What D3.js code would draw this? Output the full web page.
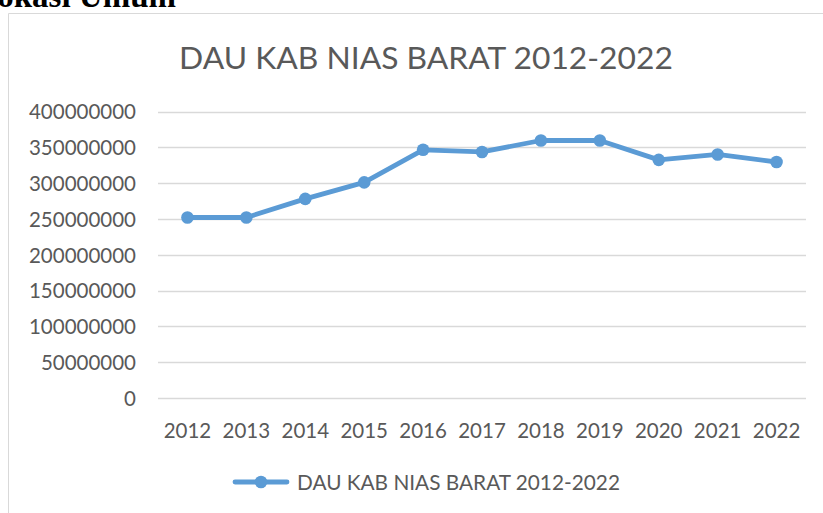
<!DOCTYPE html>
<html><head><meta charset="utf-8">
<script src="https://cdn.jsdelivr.net/npm/d3@7"></script>
<style>html,body{margin:0;padding:0;background:#fff;overflow:hidden}</style>
</head><body>
<svg id="c" width="823" height="513"></svg>
<script>
const categories = ["2012","2013","2014","2015","2016","2017","2018","2019","2020","2021","2022"];
const values = [252000000,252000000,278000000,301000000,346500000,343500000,359500000,359500000,332500000,340000000,329500000];
const yTicks = [0,50000000,100000000,150000000,200000000,250000000,300000000,350000000,400000000];
const seriesName = "DAU KAB NIAS BARAT 2012-2022";
const chartTitle = "DAU KAB NIAS BARAT 2012-2022";
const headingText = "Alokasi Umum";

(function(){
const svg = d3.select("#c");
const font = "Lato, 'Open Sans', sans-serif";
const grey = "#595959";
const blue = "#5b9bd5";

// heading (clipped at top)
svg.append("text").attr("x",176).attr("y",6.5).attr("text-anchor","end")
  .attr("font-family","'Liberation Serif', serif").attr("font-weight","bold")
  .attr("font-size",33).attr("fill","#000").text(headingText);

// chart frame
svg.append("path").attr("d","M8.5,530 V13.5 H840").attr("fill","none")
  .attr("stroke","#d9d9d9").attr("stroke-width",1);

const pL=158, pR=806, pT=111.5, pB=398;
const x = d3.scaleBand().domain(categories).range([pL,pR]);
const y = d3.scaleLinear().domain([0,400000000]).range([pB,pT]);

// gridlines
svg.append("g").selectAll("line").data(yTicks).join("line")
  .attr("x1",pL).attr("x2",pR)
  .attr("y1",d=>Math.round(y(d))+0.5).attr("y2",d=>Math.round(y(d))+0.5)
  .attr("stroke","#d9d9d9").attr("stroke-width",1.3);

// y axis labels
const ya = svg.append("g").attr("transform",`translate(${pL-22},0)`)
  .call(d3.axisLeft(y).tickValues(yTicks).tickSize(0).tickPadding(0).tickFormat(d3.format("d")));
ya.select(".domain").remove();
ya.selectAll("text").attr("font-family",font).attr("font-size",20.5).attr("fill",grey).attr("dy","0.36em");

// x axis labels
const xa = svg.append("g").attr("transform","translate(0,0)")
  .call(d3.axisBottom(x).tickSize(0));
xa.select(".domain").remove();
xa.selectAll("text").attr("font-family",font).attr("font-size",20.5).attr("fill",grey)
  .attr("y",438).attr("dy",0);

// title
svg.append("text").attr("x",426).attr("y",69).attr("text-anchor","middle")
  .attr("font-family",font).attr("font-size",31.8).attr("fill",grey).text(chartTitle);

// line
const line = d3.line().x(d=>x(d.c)+x.bandwidth()/2).y(d=>y(d.v));
const data = categories.map((c,i)=>({c,v:values[i]}));
svg.append("path").datum(data).attr("d",line).attr("fill","none")
  .attr("stroke",blue).attr("stroke-width",4.8).attr("stroke-linejoin","round");
svg.append("g").selectAll("circle").data(data).join("circle")
  .attr("cx",d=>x(d.c)+x.bandwidth()/2).attr("cy",d=>y(d.v)).attr("r",6.3).attr("fill",blue);

// legend
svg.append("line").attr("x1",235).attr("x2",287).attr("y1",482).attr("y2",482)
  .attr("stroke",blue).attr("stroke-width",4.8).attr("stroke-linecap","round");
svg.append("circle").attr("cx",261).attr("cy",482).attr("r",6.3).attr("fill",blue);
svg.append("text").attr("x",297).attr("y",490).attr("font-family",font).attr("font-size",20.8)
  .attr("fill",grey).text(seriesName);
})();
</script>
</body></html>
